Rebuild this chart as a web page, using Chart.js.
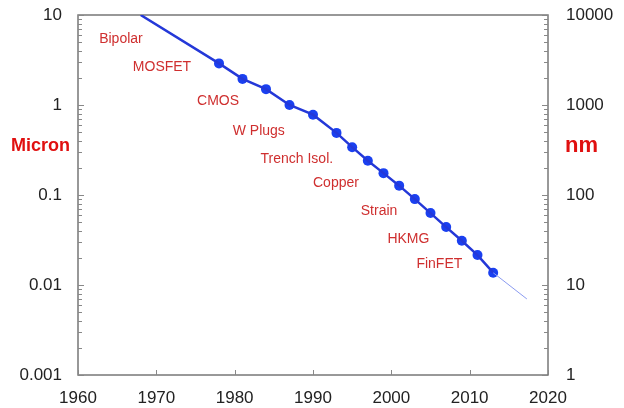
<!DOCTYPE html>
<html>
<head>
<meta charset="utf-8">
<script src="https://cdn.jsdelivr.net/npm/chart.js@4"></script>
<style>
  html, body { margin: 0; padding: 0; background: #fff; }
  #wrap { width: 624px; height: 408px; }
</style>
</head>
<body>
<div id="wrap"><canvas id="c" width="624" height="408"></canvas></div>
<script>
// Node years and feature size (micron)
const years  = [1978, 1981, 1984, 1987, 1990, 1993, 1995, 1997, 1999, 2001, 2003, 2005, 2007, 2009, 2011, 2013];
const micron = [2.9, 1.95, 1.5, 1.0, 0.78, 0.49, 0.34, 0.24, 0.175, 0.127, 0.09, 0.063, 0.044, 0.031, 0.0215, 0.0137];

// Trend line: start of the curve and the projected extension end
const trendStart = [1968, 10];
const trendEnd   = [2017.3, 0.007];

// Technology labels, anchored at (year, micron)
const techNames = ['Bipolar', 'MOSFET', 'CMOS', 'W Plugs', 'Trench Isol.', 'Copper', 'Strain', 'HKMG', 'FinFET'];
const techYears = [1962.7, 1967.0, 1975.2, 1979.75, 1983.3, 1990.0, 1996.1, 1999.5, 2003.2];
const techSize  = [5.37, 2.62, 1.09, 0.518, 0.251, 0.137, 0.067, 0.0322, 0.0171];

// Axis ticks
const yearTicks   = [1960, 1970, 1980, 1990, 2000, 2010, 2020];
const micronTicks = [0.001, 0.01, 0.1, 1, 10];
const nmTicks     = [1, 10, 100, 1000, 10000];

const FONT = '"Liberation Sans", Arial, sans-serif';

const mainLine = [{x: trendStart[0], y: trendStart[1]}].concat(years.map((y, i) => ({x: y, y: micron[i]})));
const points = years.map((y, i) => ({x: y, y: micron[i]}));
const extLine = [{x: years[years.length - 1], y: micron[micron.length - 1]}, {x: trendEnd[0], y: trendEnd[1]}];

// Frame, inward tick marks, axis titles and technology labels
const decor = {
  id: 'decor',
  beforeDatasetsDraw(chart) {
    const ctx = chart.ctx, a = chart.chartArea;
    const sx = chart.scales.x, sy = chart.scales.y, sy2 = chart.scales.y2;
    ctx.save();
    ctx.strokeStyle = '#777';
    ctx.lineWidth = 1.5;
    ctx.strokeRect(a.left, a.top, a.right - a.left, a.bottom - a.top);
    ctx.lineWidth = 1;
    ctx.strokeStyle = '#888';
    ctx.beginPath();
    // log minor/major ticks on both vertical axes
    for (let d = 0; d < micronTicks.length; d++) {
      for (let m = 1; m <= 9; m++) {
        const v = micronTicks[d] * m;
        if (v > 10.0001) continue;
        const len = m === 1 ? 6 : 4;
        const py = Math.round(sy.getPixelForValue(v)) + 0.5;
        ctx.moveTo(a.left, py); ctx.lineTo(a.left + len, py);
      }
    }
    for (let d = 0; d < nmTicks.length; d++) {
      for (let m = 1; m <= 9; m++) {
        const v = nmTicks[d] * m;
        if (v > 10000.1) continue;
        const len = m === 1 ? 6 : 4;
        const py = Math.round(sy2.getPixelForValue(v)) + 0.5;
        ctx.moveTo(a.right, py); ctx.lineTo(a.right - len, py);
      }
    }
    yearTicks.forEach(t => {
      const px = Math.round(sx.getPixelForValue(t)) + 0.5;
      ctx.moveTo(px, a.bottom); ctx.lineTo(px, a.bottom - 5);
    });
    ctx.stroke();

    // Axis titles
    ctx.fillStyle = '#e01010';
    ctx.textBaseline = 'middle';
    ctx.font = 'bold 18px ' + FONT;
    ctx.textAlign = 'left';
    ctx.fillText('Micron', 11, 146);
    ctx.font = 'bold 22px ' + FONT;
    ctx.fillText('nm', 565, 146);

    // Technology labels
    ctx.fillStyle = '#cf2f2f';
    ctx.font = '14px ' + FONT;
    techNames.forEach((n, i) => {
      ctx.fillText(n, sx.getPixelForValue(techYears[i]), sy.getPixelForValue(techSize[i]));
    });
    ctx.restore();
  }
};

const noPad = s => { s.paddingTop = 0; s.paddingBottom = 0; };

new Chart(document.getElementById('c'), {
  type: 'scatter',
  data: {
    datasets: [
      {
        data: mainLine, showLine: true, borderColor: '#2438d8', borderWidth: 2.5,
        pointRadius: 0, fill: false, tension: 0
      },
      {
        data: extLine, showLine: true, borderColor: '#8a9af0', borderWidth: 1,
        pointRadius: 0, fill: false
      },
      {
        data: points, showLine: false, pointRadius: 5, pointBackgroundColor: '#1a40f0',
        pointBorderColor: '#1a40f0', pointBorderWidth: 0
      }
    ]
  },
  options: {
    responsive: false,
    animation: false,
    layout: { padding: { top: 15, left: 0, right: 0, bottom: 0 } },
    plugins: { legend: { display: false }, tooltip: { enabled: false } },
    scales: {
      x: {
        type: 'linear', min: 1960, max: 2020,
        grid: { display: false, drawTicks: false }, border: { display: false },
        afterBuildTicks: s => { s.ticks = yearTicks.map(v => ({value: v})); },
        afterFit: s => { s.height = 33; s.paddingLeft = 0; s.paddingRight = 0; },
        ticks: { color: '#222', font: { family: FONT, size: 17 }, padding: 13, autoSkip: false, maxRotation: 0,
                 callback: v => String(v) }
      },
      y: {
        type: 'logarithmic', position: 'left', min: 0.001, max: 10,
        grid: { display: false, drawTicks: false }, border: { display: false },
        afterBuildTicks: s => { s.ticks = micronTicks.map(v => ({value: v})); },
        afterFit: s => { s.width = 78; noPad(s); },
        ticks: { color: '#222', font: { family: FONT, size: 17 }, padding: 16, autoSkip: false,
                 callback: v => String(v) }
      },
      y2: {
        type: 'logarithmic', position: 'right', min: 1, max: 10000,
        grid: { display: false, drawTicks: false }, border: { display: false },
        afterBuildTicks: s => { s.ticks = nmTicks.map(v => ({value: v})); },
        afterFit: s => { s.width = 76; noPad(s); },
        ticks: { color: '#222', font: { family: FONT, size: 17 }, padding: 18, autoSkip: false,
                 callback: v => String(v) }
      }
    }
  },
  plugins: [decor]
});
</script>
</body>
</html>
